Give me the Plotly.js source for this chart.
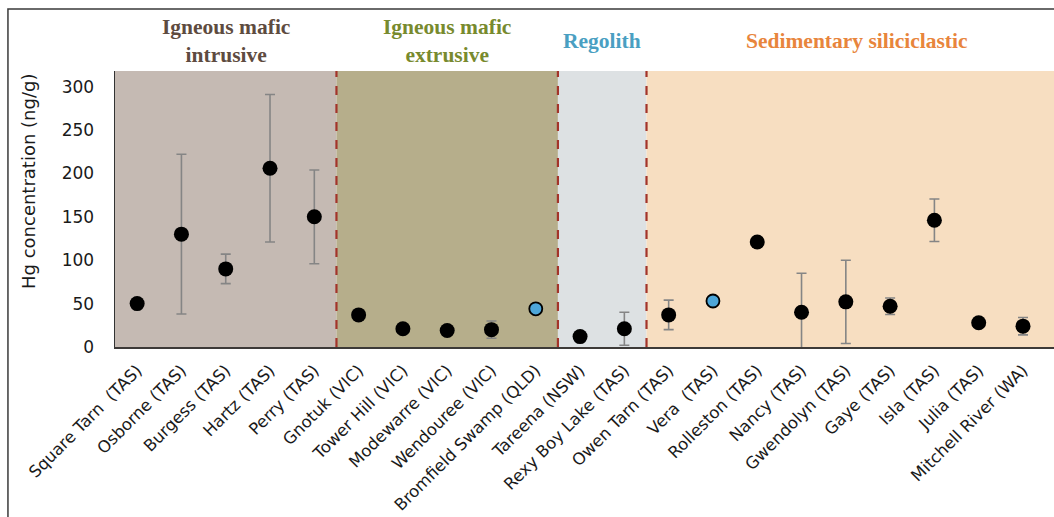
<!DOCTYPE html>
<html>
<head>
<meta charset="utf-8">
<script src="https://cdn.plot.ly/plotly-3.0.1.min.js"></script>
<style>
  html, body { margin: 0; padding: 0; background: #ffffff; }
  #chart { width: 1054px; height: 517px; }
</style>
</head>
<body>
<div id="chart"></div>
<script>
// ---- data ----
const lakes = [
  "Square Tarn  (TAS)", "Osborne (TAS)", "Burgess (TAS)", "Hartz (TAS)", "Perry (TAS)",
  "Gnotuk (VIC)", "Tower Hill (VIC)", "Modewarre (VIC)", "Wendouree (VIC)", "Bromfield Swamp (QLD)",
  "Tareena (NSW)", "Rexy Boy Lake (TAS)",
  "Owen Tarn (TAS)", "Vera  (TAS)", "Rolleston (TAS)", "Nancy (TAS)", "Gwendolyn (TAS)",
  "Gaye (TAS)", "Isla (TAS)", "Julia (TAS)", "Mitchell River (WA)"
];
const hgMean = [50, 130, 90, 206, 150, 37, 21, 19, 20, 44, 12, 21, 37, 53, 121, 40, 52, 47, 146, 28, 24];
const hgErr  = [null, 92, 17, 85, 54, null, null, null, 10, null, null, 19, 17, null, null, 45, 48, 9.5, 24.5, null, 10];
const singleSample = [false, false, false, false, false, false, false, false, false, true,
                      false, false, false, true, false, false, false, false, false, false, false];
const groupNames = ["Igneous mafic<br>intrusive", "Igneous mafic<br>extrusive", "Regolith", "Sedimentary siliciclastic"];
const groupFirst = [0, 5, 10, 12];
const groupLast  = [4, 9, 11, 20];
const yTicks = [0, 50, 100, 150, 200, 250, 300];

// ---- styles ----
const bandColors  = ["#c5bab3", "#b6ae8b", "#dde1e3", "#f7dec1"];
const titleColors = ["#5e4b40", "#788a2e", "#4a9fc2", "#e8853c"];
const xIdx = lakes.map((_, i) => i);
const xMax = 20.7;

// error bars behind markers
const errTrace = {
  type: "scatter",
  mode: "markers",
  x: xIdx,
  y: hgMean,
  error_y: {
    type: "data",
    array: hgErr,
    visible: true,
    color: "#858585",
    thickness: 1.6,
    width: 5
  },
  marker: { size: 1, color: "rgba(0,0,0,0)" },
  hoverinfo: "skip",
  showlegend: false
};

const dotTrace = {
  type: "scatter",
  mode: "markers",
  x: xIdx,
  y: hgMean,
  marker: {
    opacity: 1,
    color: singleSample.map(s => s ? "#4da6d9" : "#000000"),
    size: singleSample.map(s => s ? 13 : 15),
    line: { color: "#000000", width: singleSample.map(s => s ? 1.8 : 0) }
  },
  hoverinfo: "x+y",
  showlegend: false
};

const shapes = [];
const annotations = [];
groupNames.forEach((name, g) => {
  const x0 = groupFirst[g] - 0.5;
  const x1 = g === groupNames.length - 1 ? xMax : groupLast[g] + 0.5;
  shapes.push({
    type: "rect", xref: "x", yref: "paper", x0: x0, x1: x1, y0: 0, y1: 1,
    fillcolor: bandColors[g], line: { width: 0 }, layer: "below"
  });
  annotations.push({
    xref: "x", yref: "paper", x: (x0 + x1) / 2 + (g === 3 ? 0.15 : 0), y: 1.109,
    xanchor: "center", yanchor: "middle",
    text: "<b>" + name + "</b>", showarrow: false, align: "center",
    font: { family: "Liberation Serif, Times New Roman, serif", size: 21.5, color: titleColors[g] }
  });
  if (g > 0) {
    shapes.push({
      type: "line", xref: "x", yref: "paper", x0: x0, x1: x0, y0: 0, y1: 1,
      line: { color: "#a3342a", width: 2.2, dash: "dash" }, layer: "above"
    });
  }
});
// outer frame
shapes.push({
  type: "rect", xref: "paper", yref: "paper",
  x0: -0.114, x1: 1.05, y0: -0.7, y1: 1.2246,
  line: { color: "#3a3a3a", width: 1.5 }, fillcolor: "rgba(0,0,0,0)", layer: "above"
});

annotations.push({
  xref: "paper", yref: "paper", x: -0.092, y: 0.60,
  xanchor: "center", yanchor: "middle", textangle: -90,
  text: "Hg concentration (ng/g)", showarrow: false,
  font: { family: "DejaVu Sans, Arial, sans-serif", size: 18, color: "#1a1a1a" }
});

const layout = {
  width: 1054, height: 517,
  margin: { l: 115, r: 0, t: 71, b: 170 },
  paper_bgcolor: "#ffffff",
  plot_bgcolor: "rgba(0,0,0,0)",
  xaxis: {
    range: [-0.5, xMax],
    tickvals: xIdx,
    ticktext: lakes,
    tickangle: -45,
    ticks: "outside", ticklen: 5, tickcolor: "rgba(0,0,0,0)",
    showgrid: false, zeroline: false,
    showline: true, linecolor: "#3d3a38", linewidth: 2.2,
    tickfont: { family: "DejaVu Sans, Arial, sans-serif", size: 16.5, color: "#1a1a1a" },
    fixedrange: true
  },
  yaxis: {
    range: [0, 318],
    tickvals: yTicks,
    ticks: "outside", ticklen: 16, tickcolor: "rgba(0,0,0,0)",
    showgrid: false, zeroline: false,
    showline: true, linecolor: "#333333", linewidth: 1.5,
    tickfont: { family: "DejaVu Sans, Arial, sans-serif", size: 17, color: "#1a1a1a" },
    fixedrange: true
  },
  shapes: shapes,
  annotations: annotations,
  showlegend: false
};

Plotly.newPlot("chart", [errTrace, dotTrace], layout, { displayModeBar: false, staticPlot: true });
</script>
</body>
</html>
